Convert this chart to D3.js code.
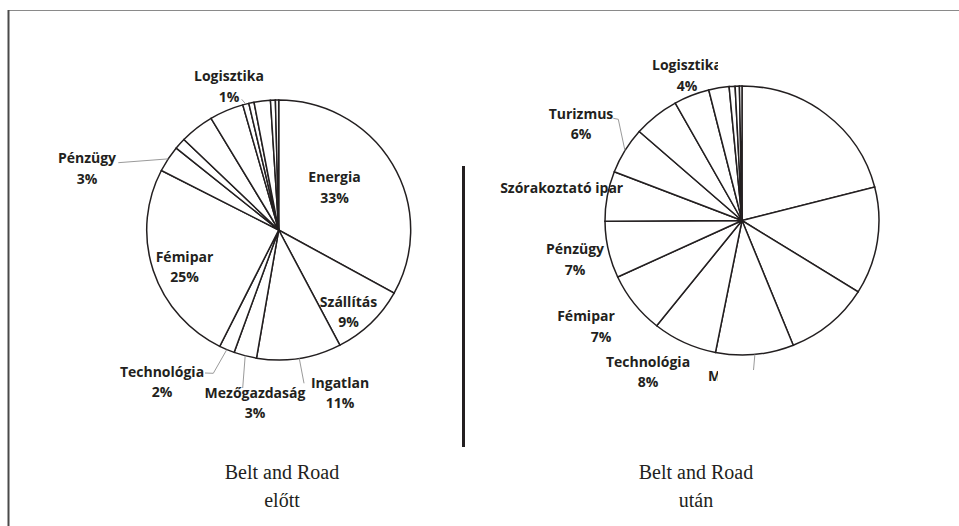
<!DOCTYPE html>
<html>
<head>
<meta charset="utf-8">
<script src="https://cdn.jsdelivr.net/npm/d3@7"></script>
<style>
  body { margin: 0; background: #fff; }
  .slice { fill: #fff; stroke: #231f20; stroke-width: 1.5px; }
  .lbl { font-family: "Open Sans", "Noto Sans", sans-serif; font-weight: 700; font-size: 14px; fill: #231f20; }
  .leader { fill: none; stroke: #9a9a9a; stroke-width: 1px; }
  .title { font-family: "Liberation Serif", "DejaVu Serif", serif; font-size: 20px; fill: #231f20; }
</style>
</head>
<body>
<svg width="959" height="526"></svg>
<script>
// shares read clockwise from 12 o'clock; "" = slice without a visible label
const beforeNames = ["Energia", "Szállítás", "Ingatlan", "Mezőgazdaság", "Technológia", "Fémipar", "Pénzügy",
                     "", "", "", "Logisztika", "", "", "", ""];
const beforeValues = [33.2, 9.3, 10.4, 2.8, 1.9, 25.3, 3.3, 1.4, 4.2, 4.2, 0.75, 0.65, 2.0, 0.6, 0.4];
const beforePct = ["33%", "9%", "11%", "3%", "2%", "25%", "3%", "", "", "", "1%", "", "", "", ""];

const afterNames = ["", "", "", "Mezőgazdaság", "Technológia", "Fémipar", "Pénzügy", "Szórakoztató ipar",
                    "Turizmus", "", "Logisztika", "", "", "", ""];
const afterValues = [21.0, 12.9, 10.0, 9.2, 7.6, 7.4, 6.8, 6.0, 5.6, 5.4, 4.2, 2.4, 0.7, 0.5, 0.3];
const afterPct = ["", "", "", "", "8%", "7%", "7%", "", "6%", "", "4%", "", "", "", ""];

const titles = [["Belt and Road", "előtt"], ["Belt and Road", "után"]];

// layout: where each label sits and how its leader bends
const beforeLayout = {
  "Energia": {x: 334.5, y: 176}, "Szállítás": {x: 348.5, y: 300.7},
  "Ingatlan": {x: 340, y: 381.7, leader: [[304, 383.3]]},
  "Mezőgazdaság": {x: 255, y: 391.7, leader: [[242.7, 388]]},
  "Technológia": {x: 162, y: 370.7, leader: [[205, 373], [213.3, 373.3]]},
  "Fémipar": {x: 184.5, y: 255.7}, "Pénzügy": {x: 87, y: 157, leader: [[118.3, 162.7]]},
  "Logisztika": {x: 229, y: 75, leader: [[241.7, 99.3]]}
};
const afterLayout = {
  "Mezőgazdaság": {x: 708, y: 375, anchor: "start", leader: [[753.5, 370]]},
  "Technológia": {x: 648, y: 360.7}, "Fémipar": {x: 586, y: 315, pdx: 15}, "Pénzügy": {x: 575, y: 248},
  "Szórakoztató ipar": {x: 561.7, y: 186.7},
  "Turizmus": {x: 581, y: 112.7, leader: [[613.3, 118.3], [618.3, 119.3]], dark: true},
  "Logisztika": {x: 687, y: 64}
};

const svg = d3.select("svg");

svg.append("defs").append("clipPath").attr("id", "rclip")
  .append("rect").attr("x", 470).attr("y", 0).attr("width", 248).attr("height", 526);

// frame
svg.append("line").attr("x1", 8).attr("x2", 959).attr("y1", 10.5).attr("y2", 10.5)
  .attr("stroke", "#8a8a8a").attr("stroke-width", 1);
svg.append("line").attr("x1", 8.5).attr("x2", 8.5).attr("y1", 10).attr("y2", 526)
  .attr("stroke", "#4a4a4a").attr("stroke-width", 2);

// divider
svg.append("line").attr("x1", 463.5).attr("x2", 463.5).attr("y1", 166).attr("y2", 447)
  .attr("stroke", "#231f20").attr("stroke-width", 3);

function drawPie(names, values, pct, layout, cx, cy, rx, ry, clip) {
  const pie = d3.pie().sort(null).value(d => d)(values);
  const arc = d3.arc().innerRadius(0).outerRadius(ry);
  const sx = rx / ry;

  svg.append("g")
    .attr("transform", `translate(${cx},${cy}) scale(${sx},1)`)
    .selectAll("path").data(pie).join("path")
    .attr("class", "slice")
    .attr("vector-effect", "non-scaling-stroke")
    .attr("d", arc);

  const leaders = svg.append("g");
  const lg = svg.append("g");
  if (clip) lg.attr("clip-path", "url(#rclip)");

  pie.forEach((p, i) => {
    const name = names[i];
    if (!name || !layout[name]) return;
    const L = layout[name];
    if (L.leader) {
      const mid = (p.startAngle + p.endAngle) / 2;
      const edge = [cx + rx * Math.sin(mid), cy - ry * Math.cos(mid)];
      leaders.append("path").attr("class", "leader")
        .attr("stroke", L.dark ? "#444" : null)
        .attr("d", d3.line()([...L.leader, edge]));
    }
    const t = lg.append("text").attr("class", "lbl").attr("text-anchor", L.anchor || "middle")
      .attr("dominant-baseline", "central");
    t.append("tspan").attr("x", L.x).attr("y", L.y).text(name);
    if (pct[i]) t.append("tspan").attr("x", L.x + (L.pdx || 0)).attr("y", L.y + 20.5).text(pct[i]);
  });
}

drawPie(beforeNames, beforeValues, beforePct, beforeLayout, 278.7, 230, 132, 130, false);
drawPie(afterNames, afterValues, afterPct, afterLayout, 742, 220.5, 137, 134.5, true);

[282, 696].forEach((x, k) => {
  titles[k].forEach((s, j) => {
    svg.append("text").attr("class", "title").attr("text-anchor", "middle")
      .attr("dominant-baseline", "central")
      .attr("x", x).attr("y", 472 + j * 28).text(s);
  });
});
</script>
</body>
</html>
